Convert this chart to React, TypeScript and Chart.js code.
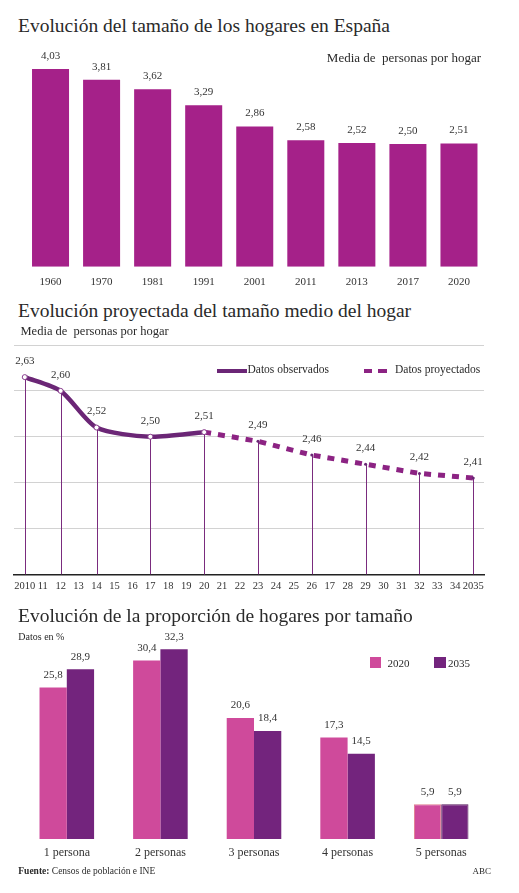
import React, { useEffect, useRef } from "react";
import { Chart, registerables } from "chart.js";

Chart.register(...registerables);

const FONT = "'Liberation Serif', 'DejaVu Serif', serif";

// ---- Chart 1: Evolución del tamaño de los hogares en España
const householdYears = ["1960", "1970", "1981", "1991", "2001", "2011", "2013", "2017", "2020"];
const householdSize = [4.03, 3.81, 3.62, 3.29, 2.86, 2.58, 2.52, 2.5, 2.51];

// ---- Chart 2: Evolución proyectada del tamaño medio del hogar
const axisYears = [
  2010, 2011, 2012, 2013, 2014, 2015, 2016, 2017, 2018, 2019, 2020, 2021, 2022,
  2023, 2024, 2025, 2026, 2027, 2028, 2029, 2030, 2031, 2032, 2033, 2034, 2035,
];
const axisYearLabels = [
  "2010", "11", "12", "13", "14", "15", "16", "17", "18", "19", "20", "21", "22",
  "23", "24", "25", "26", "17", "28", "29", "30", "31", "32", "33", "34", "2035",
];
const observedYears = [2010, 2012, 2014, 2017, 2020];
const observedValues = [2.63, 2.6, 2.52, 2.5, 2.51];
const projectedYears = [2020, 2023, 2026, 2029, 2032, 2035];
const projectedValues = [2.51, 2.49, 2.46, 2.44, 2.42, 2.41];

// ---- Chart 3: Evolución de la proporción de hogares por tamaño
const sizeCategories = ["1 persona", "2 personas", "3 personas", "4 personas", "5 personas"];
const share2020 = [25.8, 30.4, 20.6, 17.3, 5.9];
const share2035 = [28.9, 32.3, 18.4, 14.5, 5.9];

const C_BAR = "#A52189";
const C_OBS = "#6B2676";
const C_PROJ = "#8C2383";
const C_PINK = "#CF4A9B";
const C_PURPLE = "#73247D";
const TXT = "#2a2a2a";

const fmt = (v: number, d: number) => v.toFixed(d).replace(".", ",");

function ChartCanvas({ config, top, height }: { config: any; top: number; height: number }) {
  const ref = useRef<HTMLCanvasElement | null>(null);
  useEffect(() => {
    if (!ref.current) return;
    const chart = new Chart(ref.current, config);
    return () => chart.destroy();
  }, []);
  return (
    <canvas
      ref={ref}
      width={519}
      height={height}
      style={{ position: "absolute", left: 0, top, width: 519, height }}
    />
  );
}

function Txt({
  children, left, right, baseline, size, weight = 400, color = TXT,
}: any) {
  const style: any = {
    position: "absolute",
    top: baseline - 0.8375 * size,
    fontSize: size,
    lineHeight: 1,
    fontFamily: FONT,
    fontWeight: weight,
    color,
    whiteSpace: "pre",
  };
  if (left !== undefined) style.left = left;
  if (right !== undefined) style.right = 519 - right;
  return <div style={style}>{children}</div>;
}

const barLabelPlugin = (digits: number, offset: number, size: number) => ({
  id: "barLabels",
  afterDatasetsDraw(chart: any) {
    const ctx = chart.ctx;
    ctx.save();
    ctx.font = `${size}px ${FONT}`;
    ctx.fillStyle = "#333";
    ctx.textAlign = "center";
    ctx.textBaseline = "middle";
    chart.data.datasets.forEach((ds: any, i: number) => {
      const meta = chart.getDatasetMeta(i);
      meta.data.forEach((el: any, j: number) => {
        ctx.fillText(fmt(ds.data[j], digits), el.x, el.y - offset);
      });
    });
    ctx.restore();
  },
});

const dropLinePlugin = {
  id: "dropLines",
  beforeDatasetsDraw(chart: any) {
    const ctx = chart.ctx;
    const bottom = chart.chartArea.bottom;
    ctx.save();
    ctx.strokeStyle = "#7A2C7E";
    ctx.lineWidth = 1;
    chart.data.datasets.forEach((_: any, i: number) => {
      chart.getDatasetMeta(i).data.forEach((pt: any) => {
        const x = Math.round(pt.x) + 0.5;
        ctx.beginPath();
        ctx.moveTo(x, pt.y);
        ctx.lineTo(x, bottom);
        ctx.stroke();
      });
    });
    ctx.restore();
  },
};

const lineLabelPlugin = {
  id: "lineLabels",
  afterDatasetsDraw(chart: any) {
    const ctx = chart.ctx;
    ctx.save();
    ctx.font = `11px ${FONT}`;
    ctx.fillStyle = "#333";
    ctx.textAlign = "center";
    ctx.textBaseline = "middle";
    chart.data.datasets.forEach((ds: any, i: number) => {
      chart.getDatasetMeta(i).data.forEach((pt: any, j: number) => {
        if (i === 1 && j === 0) return;
        ctx.fillText(fmt(ds.data[j].y, 2), pt.x, pt.y - 16);
      });
    });
    ctx.restore();
  },
};

const chart1: any = {
  type: "bar",
  data: {
    labels: householdYears,
    datasets: [
      {
        data: householdSize,
        backgroundColor: C_BAR,
        barPercentage: 0.725,
        categoryPercentage: 1,
      },
    ],
  },
  options: {
    animation: false,
    responsive: false,
    devicePixelRatio: 1,
    layout: { padding: { left: 25, right: 34.5, top: 6, bottom: 3.3 } },
    plugins: { legend: { display: false }, tooltip: { enabled: false } },
    scales: {
      x: {
        grid: { display: false, drawTicks: false },
        border: { display: false },
        ticks: { font: { family: FONT, size: 11 }, color: "#333", padding: 8.4, maxRotation: 0, autoSkip: false },
      },
      y: { display: false, min: 0, max: 4.5 },
    },
  },
  plugins: [barLabelPlugin(2, 13, 11)],
};

const chart2: any = {
  type: "line",
  data: {
    datasets: [
      {
        label: "Datos observados",
        data: observedYears.map((x, i) => ({ x, y: observedValues[i] })),
        borderColor: C_OBS,
        borderWidth: 4.5,
        tension: 0.25,
        pointRadius: 2.5,
        pointBackgroundColor: "#fff",
        pointBorderColor: "#8a3f8f",
        pointBorderWidth: 1,
      },
      {
        label: "Datos proyectados",
        data: projectedYears.map((x, i) => ({ x, y: projectedValues[i] })),
        borderColor: C_PROJ,
        borderWidth: 5,
        borderDash: [7, 7],
        tension: 0,
        pointRadius: projectedYears.map((_, i) => (i === 0 ? 0 : 1.5)),
        pointBackgroundColor: C_OBS,
        pointBorderWidth: 0,
      },
    ],
  },
  options: {
    animation: false,
    responsive: false,
    devicePixelRatio: 1,
    layout: { padding: { left: 14, right: 35, top: 4.3, bottom: 0.9 } },
    plugins: { legend: { display: false }, tooltip: { enabled: false } },
    scales: {
      x: {
        type: "linear",
        min: 2009.4,
        max: 2035.6,
        afterBuildTicks: (s: any) => {
          s.ticks = axisYears.map((v) => ({ value: v }));
        },
        grid: { display: false, drawTicks: false },
        border: { display: true, color: "#222", width: 1.5 },
        ticks: {
          font: { family: FONT, size: 10.5 },
          color: "#333",
          padding: 6.1,
          maxRotation: 0,
          minRotation: 0,
          autoSkip: false,
          callback: (v: number) => axisYearLabels[axisYears.indexOf(Math.round(v))],
        },
      },
      y: {
        min: 2.2,
        max: 2.7,
        ticks: { display: false, stepSize: 0.1 },
        grid: { color: "#d2d2d2", drawTicks: false, lineWidth: 1 },
        border: { display: false },
      },
    },
  },
  plugins: [dropLinePlugin, lineLabelPlugin],
};

const chart3: any = {
  type: "bar",
  data: {
    labels: sizeCategories,
    datasets: [
      {
        label: "2020",
        data: share2020,
        backgroundColor: C_PINK,
        borderColor: "#E07C8E",
        borderWidth: [0, 0, 0, 0, 1],
        categoryPercentage: 0.583,
        barPercentage: 1,
      },
      {
        label: "2035",
        data: share2035,
        backgroundColor: C_PURPLE,
        borderColor: "#561a5c",
        borderWidth: [0, 0, 0, 0, 1],
        categoryPercentage: 0.583,
        barPercentage: 1,
      },
    ],
  },
  options: {
    animation: false,
    responsive: false,
    devicePixelRatio: 1,
    layout: { padding: { left: 20, right: 31, top: 8.5, bottom: 3.6 } },
    plugins: { legend: { display: false }, tooltip: { enabled: false } },
    scales: {
      x: {
        grid: { display: false, drawTicks: false },
        border: { display: false },
        ticks: { font: { family: FONT, size: 12 }, color: "#333", padding: 6.5, maxRotation: 0, autoSkip: false },
      },
      y: { display: false, min: 0, max: 35 },
    },
  },
  plugins: [barLabelPlugin(1, 12.5, 11)],
};

export default function App() {
  return (
    <div
      style={{
        position: "absolute",
        left: 0,
        top: 0,
        width: 519,
        height: 893,
        background: "#fff",
        overflow: "hidden",
        fontFamily: FONT,
      }}
    >
      <ChartCanvas config={chart1} top={40} height={260} />
      <ChartCanvas config={chart2} top={340} height={260} />
      <ChartCanvas config={chart3} top={625} height={245} />

      <Txt left={18} baseline={32.3} size={19.5}>Evolución del tamaño de los hogares en España</Txt>
      <Txt right={481} baseline={61.5} size={13}>{"Media de  personas por hogar"}</Txt>

      <Txt left={18} baseline={317.3} size={19.5}>Evolución proyectada del tamaño medio del hogar</Txt>
      <Txt left={20.5} baseline={335} size={12.5}>{"Media de  personas por hogar"}</Txt>

      {/* legend chart 2 */}
      <div style={{ position: "absolute", left: 217, top: 369, width: 30, height: 4, background: C_OBS }} />
      <Txt left={247.5} baseline={374} size={11.5}>Datos observados</Txt>
      <div style={{ position: "absolute", left: 364, top: 368.5, width: 8, height: 4.5, background: C_PROJ }} />
      <div style={{ position: "absolute", left: 378, top: 368.5, width: 9, height: 4.5, background: C_PROJ }} />
      <Txt left={395} baseline={374} size={11.5}>Datos proyectados</Txt>

      <Txt left={18} baseline={622.7} size={19.5}>Evolución de la proporción de hogares por tamaño</Txt>
      <Txt left={18.3} baseline={640} size={10}>Datos en %</Txt>

      {/* legend chart 3 */}
      <div style={{ position: "absolute", left: 370, top: 657, width: 11, height: 11, background: C_PINK }} />
      <Txt left={387.5} baseline={667} size={11}>2020</Txt>
      <div style={{ position: "absolute", left: 434, top: 657, width: 11.5, height: 11, background: C_PURPLE }} />
      <Txt left={448} baseline={667} size={11}>2035</Txt>

      <Txt left={18.3} baseline={875} size={9.5}>
        <b>Fuente:</b> Censos de población e INE
      </Txt>
      <Txt right={491} baseline={875} size={9}>ABC</Txt>
    </div>
  );
}
